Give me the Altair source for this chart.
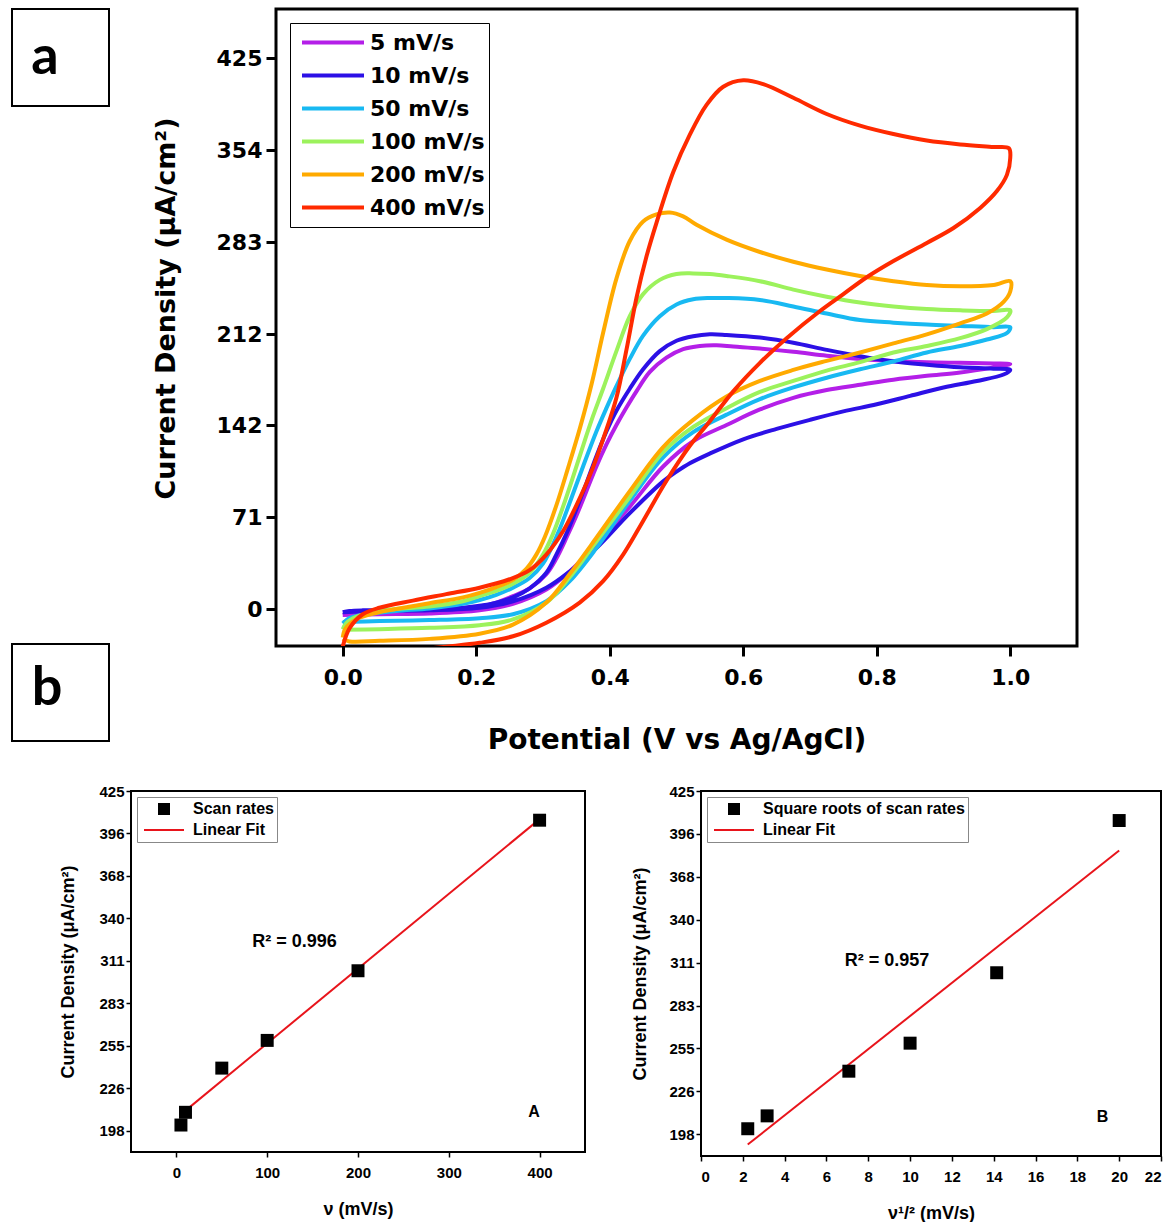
import altair as alt
import pandas as pd

# ---------------- panel a : cyclic voltammograms ----------------
rates = ["5 mV/s", "10 mV/s", "50 mV/s", "100 mV/s", "200 mV/s", "400 mV/s"]
colors = ["#B41FE8", "#2C10E6", "#18B9F2", "#9CF25C", "#FFAA00", "#FF2A00"]

v_5 = [0.0, 0.01, 0.03, 0.08, 0.13, 0.18, 0.205, 0.23, 0.255, 0.28, 0.305, 0.32, 0.336, 0.35, 0.365, 0.38, 0.395, 0.41, 0.425, 0.44, 0.46, 0.485, 0.51, 0.535, 0.56, 0.585, 0.625, 0.675, 0.725, 0.775, 0.825, 0.875, 0.925, 0.975, 1.0,
       0.975, 0.925, 0.875, 0.825, 0.775, 0.725, 0.675, 0.625, 0.575, 0.525, 0.48, 0.43, 0.38, 0.34, 0.305, 0.255, 0.205, 0.13, 0.055, 0.0]
i_5 = [-4.5, -3.5, -2.8, -2, -1, 0.5, 2, 5, 10, 16, 27, 39, 56, 72, 91, 110, 127, 142, 155.5, 168, 183, 194, 200.5, 203, 203.5, 202.5, 201, 198.5, 195.5, 193, 191.5, 190.5, 190, 189.5, 189,
       186.5, 182.5, 180, 177, 173, 169, 163, 154, 142, 129.5, 110, 79, 50, 29, 15, 4, -1, -3.5, -4, -4.5]

v_10 = [0.0, 0.01, 0.03, 0.08, 0.13, 0.18, 0.205, 0.23, 0.255, 0.28, 0.305, 0.32, 0.335, 0.35, 0.365, 0.38, 0.395, 0.41, 0.43, 0.45, 0.475, 0.5, 0.525, 0.55, 0.575, 0.625, 0.675, 0.725, 0.775, 0.825, 0.875, 0.925, 0.975, 1.0,
        0.99, 0.95, 0.9, 0.85, 0.8, 0.75, 0.7, 0.65, 0.6, 0.55, 0.52, 0.5, 0.48, 0.43, 0.38, 0.34, 0.305, 0.255, 0.205, 0.13, 0.055, 0.0]
i_10 = [-2.5, -1.5, -1, -1, -0.5, 1, 2.5, 5, 9, 16, 28, 42, 58, 77, 97, 118, 137, 153, 170, 185, 199, 207, 210.5, 212, 211.5, 209.5, 205.5, 200, 195, 191, 188.5, 186.5, 185.5, 184.5,
        181, 176, 171, 164.5, 158, 152.5, 146, 139, 131, 120, 112.5, 106, 98.5, 74, 47, 29, 16.5, 6, 1, -1, -1.5, -2.5]

v_50 = [0.0, 0.01, 0.03, 0.08, 0.13, 0.18, 0.205, 0.23, 0.255, 0.28, 0.3, 0.322, 0.34, 0.36, 0.38, 0.395, 0.41, 0.43, 0.45, 0.475, 0.5, 0.525, 0.55, 0.575, 0.625, 0.675, 0.725, 0.775, 0.825, 0.875, 0.925, 0.975, 1.0,
        0.995, 0.965, 0.925, 0.875, 0.825, 0.775, 0.725, 0.675, 0.625, 0.575, 0.525, 0.48, 0.43, 0.38, 0.34, 0.305, 0.255, 0.205, 0.13, 0.055, 0.0]
i_50 = [-11, -7, -4.5, -1.5, 0.5, 4, 7, 11, 16.5, 24, 35, 58, 82, 110, 137, 155, 172, 193, 211, 226, 235, 239, 240, 240, 238.5, 233.5, 228, 223, 221, 219.5, 218.5, 217.5, 217.5,
        213, 208, 203, 198, 191, 185, 178.5, 171, 162, 150, 136.5, 117, 83.5, 47, 21.5, 6, -4, -7, -8.5, -9.3, -10]

v_100 = [0.0, 0.005, 0.02, 0.05, 0.08, 0.13, 0.18, 0.205, 0.23, 0.255, 0.28, 0.3, 0.315, 0.33, 0.345, 0.36, 0.375, 0.39, 0.41, 0.43, 0.45, 0.475, 0.5, 0.525, 0.55, 0.575, 0.625, 0.675, 0.725, 0.775, 0.825, 0.875, 0.925, 0.975, 1.0,
         0.995, 0.965, 0.925, 0.875, 0.825, 0.775, 0.725, 0.675, 0.625, 0.575, 0.525, 0.48, 0.43, 0.38, 0.34, 0.305, 0.255, 0.205, 0.13, 0.055, 0.0]
i_100 = [-15.5, -11, -6, -2, 0, 2, 6, 10, 14, 19.5, 28, 42, 58, 79, 102, 126, 149, 170, 199, 226, 243, 254, 258.5, 259, 258.5, 257, 253, 246.5, 241, 236.5, 233.5, 231.5, 230.5, 230, 230.5,
         225, 216, 209, 203, 198, 190.5, 184, 176, 167.5, 155, 140.5, 121, 86.5, 52, 24.5, 5, -8, -12.5, -14.5, -15.5, -16]

v_200 = [0.0, 0.004, 0.02, 0.05, 0.08, 0.13, 0.18, 0.205, 0.23, 0.255, 0.275, 0.29, 0.303, 0.32, 0.337, 0.355, 0.373, 0.39, 0.41, 0.43, 0.45, 0.47, 0.49, 0.51, 0.53, 0.575, 0.625, 0.675, 0.725, 0.775, 0.825, 0.875, 0.925, 0.975, 1.0,
         1.0, 0.99, 0.965, 0.925, 0.875, 0.825, 0.775, 0.725, 0.675, 0.625, 0.575, 0.525, 0.48, 0.43, 0.38, 0.34, 0.305, 0.255, 0.205, 0.13, 0.055, 0.01, 0.0]
i_200 = [-22, -15, -8, -3, 0, 4.5, 9, 12.5, 17, 22.5, 31, 42, 56, 80, 108, 139, 174, 213, 255, 284, 299, 304.5, 306, 303, 296.5, 285, 275.5, 268, 262, 257, 253, 250, 249, 250, 253,
         245, 237, 228, 220.5, 212, 205, 198, 191.5, 184.5, 176, 164, 146, 125, 91, 55, 27, 5, -12, -19, -23, -24.5, -25, -23]

v_400 = [0.0, 0.01, 0.03, 0.055, 0.105, 0.155, 0.205, 0.25, 0.28, 0.305, 0.33, 0.35, 0.37, 0.39, 0.41, 0.425, 0.44, 0.455, 0.47, 0.495, 0.52, 0.545, 0.57, 0.6, 0.63, 0.675, 0.725, 0.775, 0.825, 0.875, 0.925, 0.975, 0.998,
         1.0, 0.995, 0.98, 0.955, 0.915, 0.875, 0.825, 0.785, 0.75, 0.715, 0.665, 0.625, 0.585, 0.55, 0.52, 0.485, 0.45, 0.42, 0.39, 0.355, 0.305, 0.255, 0.205, 0.155, 0.1]
i_400 = [-29, -15, -4, 1, 6.5, 11.5, 16.5, 23, 30, 42, 60, 80, 103, 131, 163, 200, 240, 272, 298, 337, 366, 389, 403, 408, 405, 394.5, 382, 373, 366.5, 361.5, 358.5, 356.5, 355.5,
         348, 335, 322.5, 309.5, 294, 282.5, 268.5, 256, 243, 230, 209, 190, 168, 145, 126, 99, 68, 42, 21.5, 5, -10.5, -21, -26, -29, -32]

cv_x_ticks = [0.0, 0.2, 0.4, 0.6, 0.8, 1.0]
cv_y_ticks = [0, 71, 142, 212, 283, 354, 425]

# ---------------- panel b : peak current vs scan rate ----------------
scan_rates = [5, 10, 50, 100, 200, 400]
sqrt_scan_rates = [2.236, 3.162, 7.071, 10.0, 14.142, 20.0]
peak_current = [202, 210.5, 240, 258.5, 305, 405.5]
b_y_ticks = [198.33, 226.67, 255, 283.33, 311.67, 340, 368.33, 396.67, 425]
a_x_ticks = [0, 100, 200, 300, 400]
bb_x_ticks = [0, 2, 4, 6, 8, 10, 12, 14, 16, 18, 20, 22]
series_names = ["Scan rates", "Linear Fit"]
series_names_b = ["Square roots of scan rates", "Linear Fit"]
r2_a = {"x": [130], "y": [324], "t": ["R\u00b2 = 0.996"]}
r2_b = {"x": [8.9], "y": [312.5], "t": ["R\u00b2 = 0.957"]}
tag_a = {"x": [394], "y": [211], "t": ["A"]}
tag_b = {"x": [19.2], "y": [209.5], "t": ["B"]}
panel_labels = ["a", "b"]

# ---------------- build panel a ----------------
rows = []
for name, vs, cs in zip(rates, [v_5, v_10, v_50, v_100, v_200, v_400],
                        [i_5, i_10, i_50, i_100, i_200, i_400]):
    for k, (v, c) in enumerate(zip(vs, cs)):
        rows.append({"rate": name, "V": v, "I": c, "k": k})
cv_df = pd.DataFrame(rows)

FA = "DejaVu Sans"
cv = alt.Chart(cv_df).mark_line(strokeWidth=4, clip=True, interpolate="catmull-rom").encode(
    x=alt.X("V:Q", scale=alt.Scale(domain=[-0.1, 1.1], nice=False, zero=False),
            axis=alt.Axis(values=cv_x_ticks, format=".1f", title="Potential (V vs Ag/AgCl)",
                          grid=False, domain=False, tickSize=10, tickWidth=3, tickColor="black",
                          labelFont=FA, labelFontSize=22, labelFontWeight="bold", labelColor="black",
                          labelPadding=11, titleFont=FA, titleFontSize=28, titleFontWeight="bold",
                          titleColor="black", titlePadding=38)),
    y=alt.Y("I:Q", scale=alt.Scale(domain=[-28.5, 463], nice=False, zero=False),
            axis=alt.Axis(values=cv_y_ticks, format="d", title="Current Density (\u03bcA/cm\u00b2)",
                          grid=False, domain=False, tickSize=10, tickWidth=3, tickColor="black",
                          labelFont=FA, labelFontSize=22, labelFontWeight="bold", labelColor="black",
                          labelPadding=4, titleFont=FA, titleFontSize=27, titleFontWeight="bold",
                          titleColor="black", titlePadding=36, titleY=299)),
    color=alt.Color("rate:N", sort=rates, scale=alt.Scale(domain=rates, range=colors),
                    legend=alt.Legend(title=None, orient="top-left", offset=14, symbolType="stroke",
                                      symbolSize=3844, symbolStrokeWidth=4, clipHeight=31, rowPadding=2,
                                      padding=4, symbolOffset=6, labelOffset=4, labelFont=FA,
                                      labelFontSize=22, labelFontWeight="bold", labelColor="black",
                                      strokeColor="black", fillColor="white")),
    order=alt.Order("k:Q"),
).properties(width=801, height=637, view=alt.ViewBackground(stroke="black", strokeWidth=3))


def box(label, tx, ty):
    return alt.Chart(pd.DataFrame({"label": [label]})).mark_text(
        font="Lato", fontSize=54, fontWeight="bold", align="center", baseline="alphabetic", color="black"
    ).encode(text="label:N", x=alt.value(tx), y=alt.value(ty)).properties(
        width=97, height=97, view=alt.ViewBackground(stroke="black", strokeWidth=2))


box_a = box(panel_labels[0], 33, 65)
box_b = box(panel_labels[1], 35, 61)

# ---------------- build panel b ----------------
FB = "Liberation Sans"
SQ = "M-0.3,-0.3H0.3V0.3H-0.3Z"
LN = "M-1,-0.05H1V0.05H-1Z"
RED = "#E8141B"


def make_scatter(xvals, names, xdomain, xticks, xtitle, r2, tag, w, h, ytp):
    df = pd.DataFrame({"x": xvals, "y": peak_current, "series": names[0]})
    leg = alt.Legend(title=None, orient="top-left", offset=6, symbolSize=1600, clipHeight=18,
                     rowPadding=3, padding=3, symbolOffset=3, labelOffset=8, labelFont=FB,
                     labelFontSize=16, labelFontWeight="bold", labelColor="black",
                     strokeColor="#888888", fillColor="white", labelLimit=400)
    xenc = alt.X("x:Q", scale=alt.Scale(domain=xdomain, nice=False, zero=False),
                 axis=alt.Axis(values=xticks, title=xtitle, grid=False, domain=False, tickSize=5,
                               tickWidth=1.5, tickColor="black", labelFont=FB, labelFontSize=15,
                               labelFontWeight="bold", labelColor="black", labelPadding=8,
                               titleFont=FB, titleFontSize=18, titleFontWeight="bold",
                               titleColor="black", titlePadding=20))
    yenc = alt.Y("y:Q", scale=alt.Scale(domain=[184, 425], nice=False, zero=False),
                 axis=alt.Axis(values=b_y_ticks, labelExpr="floor(datum.value)",
                               title="Current Density (\u03bcA/cm\u00b2)", grid=False, domain=False,
                               tickSize=5, tickWidth=1.5, tickColor="black", labelFont=FB,
                               labelFontSize=15, labelFontWeight="bold", labelColor="black",
                               labelPadding=2, titleFont=FB, titleFontSize=18,
                               titleFontWeight="bold", titleColor="black", titlePadding=ytp))
    pts = alt.Chart(df).mark_point(filled=True, opacity=1, size=1870).encode(
        x=xenc, y=yenc,
        color=alt.Color("series:N", scale=alt.Scale(domain=names, range=["black", RED]), legend=leg),
        shape=alt.Shape("series:N", scale=alt.Scale(domain=names, range=[SQ, LN]), legend=leg),
    )
    fit = alt.Chart(df).transform_regression("x", "y").mark_line(color=RED, strokeWidth=2).encode(
        x="x:Q", y="y:Q")
    r2t = alt.Chart(pd.DataFrame(r2)).mark_text(font=FB, fontSize=18, fontWeight="bold",
                                                color="black").encode(x="x:Q", y="y:Q", text="t:N")
    tagt = alt.Chart(pd.DataFrame(tag)).mark_text(font=FB, fontSize=16, fontWeight="bold",
                                                  color="black").encode(x="x:Q", y="y:Q", text="t:N")
    return alt.layer(fit, pts, r2t, tagt).properties(
        width=w, height=h, view=alt.ViewBackground(stroke="black", strokeWidth=2))


chart_A = make_scatter(scan_rates, series_names, [-50, 450], a_x_ticks, "\u03bd (mV/s)",
                       r2_a, tag_a, 454, 361, 21)
chart_B = make_scatter(sqrt_scan_rates, series_names_b, [0, 22], bb_x_ticks,
                       "\u03bd\u00b9/\u00b2 (mV/s)", r2_b, tag_b, 460, 365, 19)

spacer = alt.Chart(pd.DataFrame({"v": [0]})).mark_point(opacity=0).encode(
    x=alt.value(0), y=alt.value(0)).properties(width=20, height=10, view=alt.ViewBackground(stroke=None))

IND = dict(color="independent", shape="independent")
left_col = alt.vconcat(box_a, box_b, spacing=536)
top_row = alt.hconcat(left_col, cv, spacing=40).resolve_scale(**IND)
inner = alt.hconcat(chart_A, chart_B, spacing=44).resolve_scale(**IND)
bottom_row = alt.hconcat(spacer, inner, spacing=26).resolve_scale(**IND)

chart = alt.vconcat(top_row, bottom_row, spacing=27).properties(
    padding={"left": 9, "top": 7, "right": 0, "bottom": 0}, background="white"
).configure_view(stroke=None).resolve_scale(**IND)

chart.save("out.html", embed_options={"renderer": "svg", "actions": False})
